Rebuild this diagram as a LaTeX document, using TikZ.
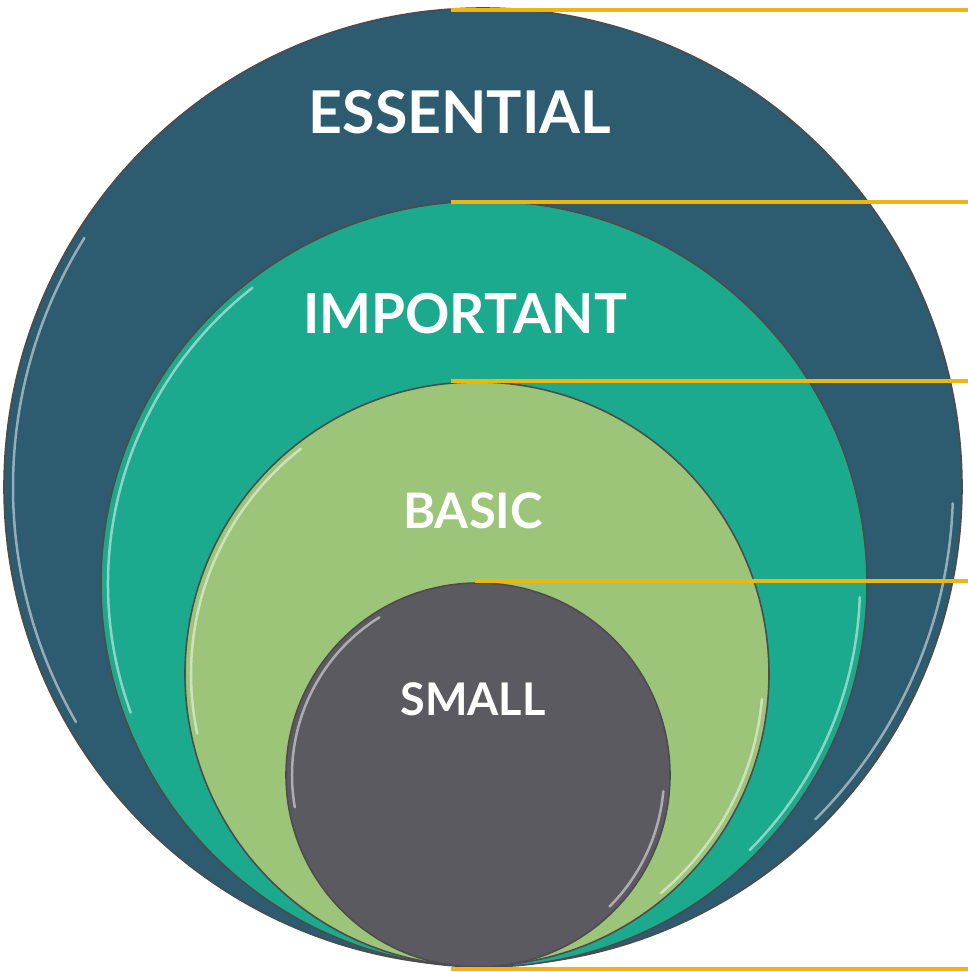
\documentclass[tikz,border=0pt]{standalone}
\usepackage{fontspec}
\setmainfont{Lato}
\definecolor{cEss}{HTML}{2D5B6F}
\definecolor{cImp}{HTML}{1BAA8E}
\definecolor{cBas}{HTML}{9CC57A}
\definecolor{cSma}{HTML}{5C5A61}
\definecolor{goldline}{HTML}{EEB70F}
\begin{document}
\begin{tikzpicture}[x=1pt,y=-1pt,
  ring/.style={circle, inner sep=0pt, outer sep=0pt, draw=black!70, line width=1.6pt, fill=#1},
  lbl/.style={text=white, inner sep=0pt},
  leader/.style={draw=goldline, line width=4pt},
  shine/.style={draw=white, opacity=0.5, line width=2.5pt, line cap=round}]
\useasboundingbox (0,0) rectangle (968,972);

% circles
\node[ring=cEss, minimum size=958pt] (ess) at (483,487) {};
\draw[shine] (ess.center) ++(-148:470) arc[start angle=-148, end angle=-210, radius=470];
\draw[shine] (ess.center) ++(2:470) arc[start angle=2, end angle=45, radius=470];

\node[ring=cImp, minimum size=766pt] (imp) at (484,584) {};
\draw[shine] (imp.center) ++(-128:376) arc[start angle=-128, end angle=-200, radius=376];
\draw[shine] (imp.center) ++(2:376) arc[start angle=2, end angle=45, radius=376];

\node[ring=cBas, minimum size=584pt] (bas) at (477,674) {};
\draw[shine] (bas.center) ++(-128:286) arc[start angle=-128, end angle=-192, radius=286];
\draw[shine] (bas.center) ++(5:286) arc[start angle=5, end angle=50, radius=286];

\node[ring=cSma, minimum size=384pt] (sma) at (478,775) {};
\draw[shine] (sma.center) ++(-122:186) arc[start angle=-122, end angle=-190, radius=186];
\draw[shine] (sma.center) ++(5:186) arc[start angle=5, end angle=45, radius=186];

% labels
\node[lbl, font=\fontsize{59}{59}\bfseries] (tEss) at (460,112) {ESSENTIAL};
\node[lbl, font=\fontsize{55}{55}\bfseries] (tImp) at (465,314) {IMPORTANT};
\node[lbl, font=\fontsize{49}{49}\bfseries] (tBas) at (473,511) {BASIC};
\node[lbl, font=\fontsize{45}{45}\bfseries] (tSma) at (473,699) {SMALL};

% leader lines
\coordinate (s1) at (451,10);  \coordinate (e1) at (970,10);
\coordinate (s2) at (451,202); \coordinate (e2) at (970,202);
\coordinate (s3) at (451,381); \coordinate (e3) at (970,381);
\coordinate (s4) at (475,581); \coordinate (e4) at (970,581);
\coordinate (s5) at (451,969); \coordinate (e5) at (970,969);
\draw[leader] (s1) -- (e1);
\draw[leader] (s2) -- (e2);
\draw[leader] (s3) -- (e3);
\draw[leader] (s4) -- (e4);
\draw[leader] (s5) -- (e5);
\end{tikzpicture}
\end{document}
